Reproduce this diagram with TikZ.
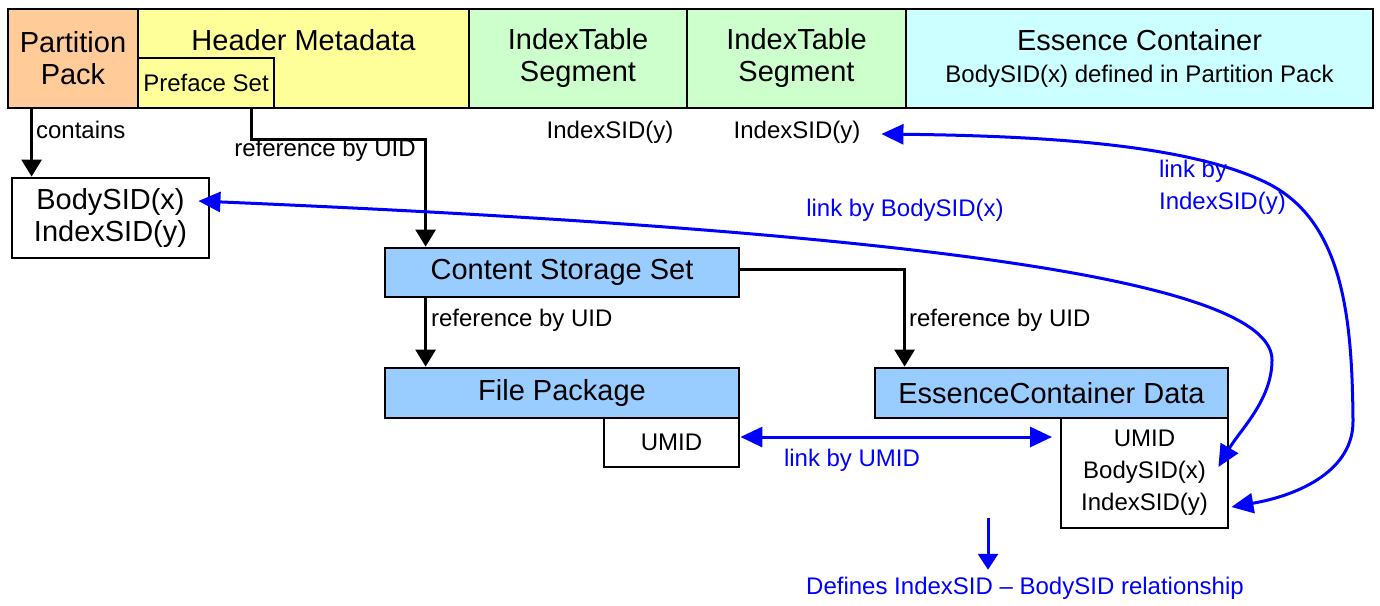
\documentclass[tikz,border=0pt]{standalone}
\usepackage{fontspec}
\setmainfont{Liberation Sans}
\usetikzlibrary{arrows.meta,calc}

\newcommand{\bigf}{\fontsize{14.5}{16}\selectfont}
\newcommand{\smallf}{\fontsize{12}{16}\selectfont}

\definecolor{ppfill}{HTML}{FFCC99}
\definecolor{hmfill}{HTML}{FFFF99}
\definecolor{itfill}{HTML}{CCFFCC}
\definecolor{ecfill}{HTML}{CCFFFF}
\definecolor{setfill}{HTML}{99CCFF}
\definecolor{linkblue}{HTML}{0000FF}

\begin{document}
\begin{tikzpicture}[x=0.5pt,y=-0.5pt,
  box/.style={draw,line width=1.4pt,inner sep=0pt,align=center},
  blk/.style={line width=1.4pt,-{Triangle[length=8.5pt,width=10pt]}},
  lnk/.style={draw=linkblue,line width=1.5pt,{Triangle[length=11pt,width=10pt]}-{Triangle[length=11pt,width=10pt]}},
  lbl/.style={font=\smallf},
  blbl/.style={font=\smallf,text=linkblue}]

\useasboundingbox (0,0) rectangle (1380,605);

% partition layout
\node[box,fill=ppfill,minimum width=65pt,minimum height=49.5pt,font=\bigf] (pp) at (73,58.5) {Partition\\Pack};
\node[box,fill=hmfill,minimum width=165.5pt,minimum height=49.5pt] (hm) at (303.5,58.5) {};
\node[font=\bigf] (hmt) at (303.5,40) {Header Metadata};
\node[box,fill=hmfill,minimum width=68pt,minimum height=25pt,font=\smallf] (ps) at (206,83) {Preface Set};
\node[box,fill=itfill,minimum width=109pt,minimum height=49.5pt,font=\bigf] (it1) at (578,58.5) {IndexTable\\Segment};
\node[box,fill=itfill,minimum width=109.5pt,minimum height=49.5pt,font=\bigf] (it2) at (796.5,58.5) {IndexTable\\Segment};
\node[box,fill=ecfill,minimum width=233.5pt,minimum height=49.5pt,font=\smallf] (ec) at (1139.5,58.5) {{\bigf Essence Container}\\BodySID(x) defined in Partition Pack};

\node[lbl] (isd1) at (610,132) {IndexSID(y)};
\node[lbl] (isd2) at (797,132) {IndexSID(y)};

% sets
\node[box,minimum width=98.5pt,minimum height=40pt,font=\bigf] (sid) at (110.5,218) {BodySID(x)\\IndexSID(y)};
\node[box,fill=setfill,minimum width=177pt,minimum height=24.5pt,font=\bigf] (css) at (562,272.5) {Content Storage Set};
\node[box,fill=setfill,minimum width=177pt,minimum height=25pt,font=\bigf] (fp) at (562,393) {File Package};
\node[box,minimum width=67.5pt,minimum height=24.5pt,font=\smallf] (fpu) at (671.5,442.5) {UMID};
\node[box,fill=setfill,minimum width=176.5pt,minimum height=25pt,font=\bigf] (ecd) at (1051.5,393) {EssenceContainer Data};
\node[box,minimum width=83.5pt,minimum height=55pt,font=\smallf] (ecdu) at (1144.5,473) {UMID\\BodySID(x)\\IndexSID(y)};

% references
\draw[blk] ($(pp.south west)+(25,0)$) -- ($(pp.south west |- sid.north)+(25,0)$);
\node[lbl,anchor=west] at (29,130) {contains};
\draw[blk] ($(ps.south east)+(-24,0)$) -- ++(0,30) -| ($(css.north west)+(42,0)$);
\node[lbl] at (325,150) {reference by UID};
\draw[blk] ($(css.south west)+(42,0)$) -- ($(fp.north west)+(42,0)$);
\node[lbl,anchor=west] at (424,320) {reference by UID};
\draw[blk] ($(css.east)+(0,-3)$) -| ($(ecd.north west)+(31,0)$);
\node[lbl,anchor=west] at (902,320) {reference by UID};

% links
\coordinate (uend) at (1052,437);
\draw[lnk] ($(fpu.east)+(0,-5.5)$) -- (uend);
\node[blbl] at (852,460) {link by UMID};

\draw[lnk] ($(ecdu.east)+(-11,-6)$) .. controls (1240,430) and (1272,400) .. (1272,360)
  .. controls (1272,290) and (1000,235) .. ($(sid.east)+(-12,-17)$);
\node[blbl] at (905,210) {link by BodySID(x)};

\draw[lnk] ($(isd2.east)+(14,2)$) .. controls (1050,136) and (1190,145) .. (1267,183)
  .. controls (1344,221) and (1352,320) .. (1353,420)
  .. controls (1354,470) and (1300,495) .. ($(ecdu.east)+(2,34)$);
\node[blbl,anchor=west,align=left] at (1152,187.5) {link by\\IndexSID(y)};

\node[blbl] (def) at (1025,588) {Defines IndexSID \textendash{} BodySID relationship};
\coordinate (dtop) at (988,518);
\draw[draw=linkblue,line width=1.5pt,-{Triangle[length=8pt,width=10pt]}] (dtop) -- (dtop |- def.north);

\end{tikzpicture}
\end{document}
